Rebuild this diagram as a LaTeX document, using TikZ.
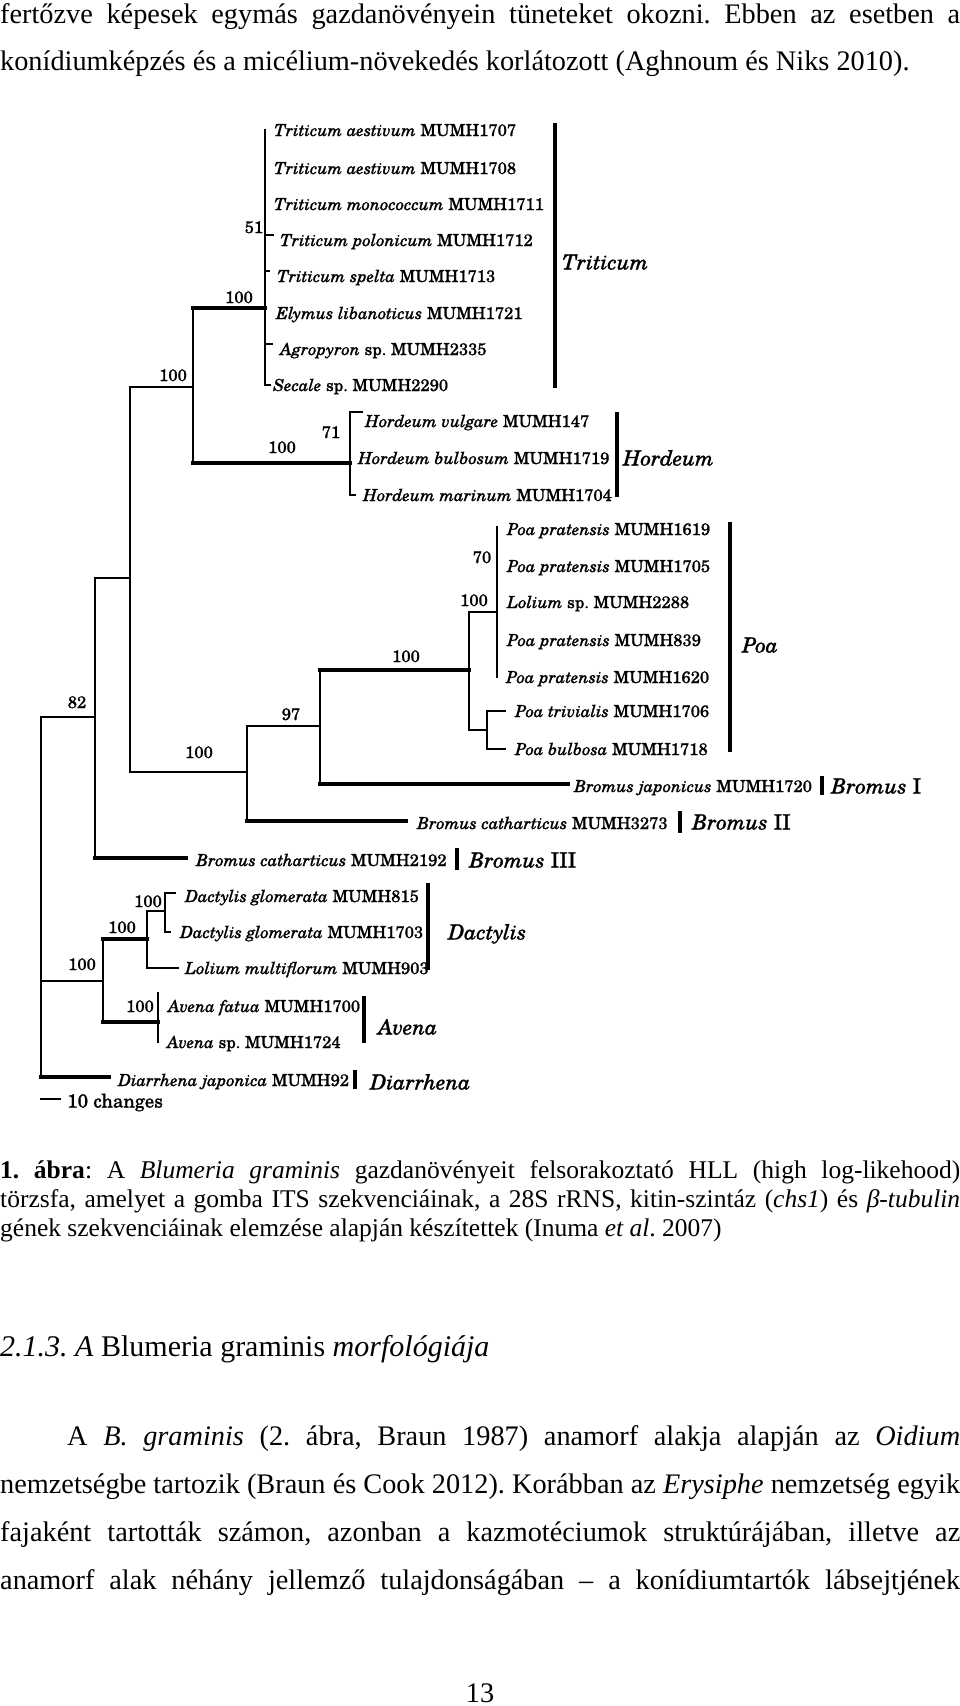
\documentclass[tikz,border=0pt]{standalone}
\usepackage{fontspec}
\setmainfont{Liberation Serif}
\newfontfamily\scholafam{TeX Gyre Schola}[FakeBold=1.1]
\newcommand\mytree{\scholafam\fontsize{16.6}{19}\selectfont}
\newcommand\myscale{\scholafam\fontsize{18.8}{22}\selectfont}
\newcommand\myclade{\scholafam\fontsize{21}{24}\selectfont}
\newcommand\mybody{\fontsize{28.3}{34}\selectfont}
\newcommand\mycap{\fontsize{25.5}{30}\selectfont}
\newcommand\myhead{\fontsize{30}{36}\selectfont}
\frenchspacing
\begin{document}
\frenchspacing
\begin{tikzpicture}[x=1pt,y=-1pt,
  tline/.style={line width=1.3pt, line cap=rect},
  tmid/.style={line width=2.6pt},
  tthick/.style={line width=4pt, line cap=rect},
  tbar/.style={line width=4.5pt},
  tleaf/.style={anchor=west, inner sep=0pt, text height=12pt, text depth=0pt, font=\mytree},
  tboot/.style={anchor=center, inner sep=0pt, text height=12pt, text depth=0pt, font=\mytree},
  tclade/.style={anchor=west, inner sep=0pt, text height=15pt, text depth=0pt, font=\myclade},
  ptxt/.style={anchor=base west, inner sep=0pt, font=\mybody},
  ctxt/.style={anchor=base west, inner sep=0pt, font=\mycap}]
\useasboundingbox (0,0) rectangle (960,1706);
\fill[white] (0,0) rectangle (960,1706);

% ---------- top paragraph ----------
\node[ptxt] (top1) at (0,23) {\makebox[960pt][s]{fertőzve képesek egymás gazdanövényein tüneteket okozni. Ebben az esetben a}};
\node[ptxt] (top2) at (0,70) {konídiumképzés és a micélium-növekedés korlátozott (Aghnoum és Niks 2010).};

% ---------- tree: internal nodes ----------
\coordinate (R) at (41,900);
\coordinate (N82) at (95,717);
\coordinate (NA) at (130,578);
\coordinate (NTH) at (193,387);
\coordinate (NT) at (265,308);
\coordinate (NH) at (350,463);
\coordinate (NB) at (247,772);
\coordinate (N97) at (320,726);
\coordinate (NP) at (469,670);
\coordinate (NPP) at (497,612);
\coordinate (NPB) at (487,730);
\coordinate (NDA) at (103,981);
\coordinate (ND) at (147,939);
\coordinate (NDD) at (165,911);
\coordinate (NAv) at (158,1022);
\coordinate (BJ) at (568,784);
\coordinate (BII) at (406,821);
\coordinate (BIII) at (186,858);
\coordinate (DI) at (109,1077);
\coordinate (LM) at (178,968);

% ---------- leaves ----------
\node[tleaf] (t1) at (274,130) {\textit{Triticum aestivum} MUMH1707};
\node[tleaf] (t2) at (274,168) {\textit{Triticum aestivum} MUMH1708};
\node[tleaf] (t3) at (274,204) {\textit{Triticum monococcum} MUMH1711};
\node[tleaf] (t4) at (280,240) {\textit{Triticum polonicum} MUMH1712};
\node[tleaf] (t5) at (277,276) {\textit{Triticum spelta} MUMH1713};
\node[tleaf] (t6) at (276,313) {\textit{Elymus libanoticus} MUMH1721};
\node[tleaf] (t7) at (280,349) {\textit{Agropyron} sp. MUMH2335};
\node[tleaf] (t8) at (273,385) {\textit{Secale} sp. MUMH2290};

\node[tleaf] (h1) at (365,421) {\textit{Hordeum vulgare} MUMH147};
\node[tleaf] (h2) at (358,458) {\textit{Hordeum bulbosum} MUMH1719};
\node[tleaf] (h3) at (363,495) {\textit{Hordeum marinum} MUMH1704};

\node[tleaf] (p1) at (507,529) {\textit{Poa pratensis} MUMH1619};
\node[tleaf] (p2) at (507,566) {\textit{Poa pratensis} MUMH1705};
\node[tleaf] (p3) at (507,602) {\textit{Lolium} sp. MUMH2288};
\node[tleaf] (p4) at (507,640) {\textit{Poa pratensis} MUMH839};
\node[tleaf] (p5) at (506,677) {\textit{Poa pratensis} MUMH1620};
\node[tleaf] (p6) at (515,711) {\textit{Poa trivialis} MUMH1706};
\node[tleaf] (p7) at (515,749) {\textit{Poa bulbosa} MUMH1718};

\node[tleaf] (bj) at (574,786) {\textit{Bromus japonicus} MUMH1720};
\node[tleaf] (b2) at (417,823) {\textit{Bromus catharticus} MUMH3273};
\node[tleaf] (b3) at (196,860) {\textit{Bromus catharticus} MUMH2192};

\node[tleaf] (d1) at (185,896) {\textit{Dactylis glomerata} MUMH815};
\node[tleaf] (d2) at (180,932) {\textit{Dactylis glomerata} MUMH1703};
\node[tleaf] (lm) at (185,968) {\textit{Lolium multiflorum} MUMH903};
\node[tleaf] (a1) at (168,1006) {\textit{Avena fatua} MUMH1700};
\node[tleaf] (a2) at (167,1042) {\textit{Avena} sp. MUMH1724};
\node[tleaf] (di) at (118,1080) {\textit{Diarrhena japonica} MUMH92};

% ---------- branches ----------
\draw[tline] (R |- N82) -- (R |- DI);
\draw[tline] (R |- N82) -- (N82);
\draw[tline] (N82 |- NA) -- (N82 |- BIII);
\draw[tline] (N82 |- NA) -- (NA);
\draw[tthick] (N82 |- BIII) -- (BIII);
\draw[tline] (NA |- NTH) -- (NA |- NB);
\draw[tline] (NA |- NTH) -- (NTH);
\draw[tline] (NA |- NB) -- (NB);
\draw[tline] (NTH |- NT) -- (NTH |- NH);
\draw[tthick] (NTH |- NT) -- (NT);
\draw[tthick] (NTH |- NH) -- (NH);
% Triticum node
\draw[tline] (NT |- t1.west) -- (NT |- t8.west);
\draw[tmid] (NT |- t4.west) ++(0,-5) -- (NT |- t7.west);
\draw[tline] (NT |- t4.west) ++(0,-5) -- ++(8,0);
\draw[tline] (NT |- t5.west) ++(0,-5) -- ++(4,0);
\draw[tline] (NT |- t7.west) ++(0,-5) -- ++(7,0);
\draw[tline] (NT |- t8.west) -- ++(5,0);
% Hordeum node
\draw[tline] (NH |- h1.west) ++(0,-9) -- (NH |- h3.west);
\draw[tmid] (NH) -- ++(0,-26);
\draw[tline] (NH |- h1.west) ++(0,-9) -- ++(12,0);
\draw[tline] (NH |- h3.west) -- ++(5,0);
% Bromus / Poa part
\draw[tline] (NB |- N97) -- (NB |- BII);
\draw[tline] (NB |- N97) -- (N97);
\draw[tthick] (NB |- BII) -- (BII);
\draw[tline] (N97 |- NP) -- (N97 |- BJ);
\draw[tthick] (N97 |- NP) -- (NP);
\draw[tthick] (N97 |- BJ) -- (BJ);
\draw[tline] (NP |- NPP) -- (NP |- NPB);
\draw[tline] (NP |- NPP) -- (NPP);
\draw[tline] (NP |- NPB) -- (NPB);
\draw[tline] (NPP |- p1.west) ++(0,-2) -- (NPP |- p5.west);
\draw[tmid] (NPP |- p2.west) -- (NPP |- p3.west);
\draw[tmid] (NPP |- p4.west) ++(0,-3) -- ++(0,18);
\draw[tline] (NPB |- p6.west) -- (NPB |- p7.west);
\draw[tline] (NPB |- p6.west) -- ++(18,0);
\draw[tline] (NPB |- p7.west) -- ++(18,0);
% lower clades
\draw[tline] (R |- NDA) -- (NDA);
\draw[tthick] (R |- DI) -- (DI);
\draw[tline] (NDA |- ND) -- (NDA |- NAv);
\draw[tthick] (NDA |- ND) -- (ND);
\draw[tthick] (NDA |- NAv) -- (NAv);
\draw[tline] (ND |- NDD) -- (ND |- LM);
\draw[tline] (ND |- NDD) -- (NDD);
\draw[tline] (ND |- LM) -- (LM);
\draw[tline] (NDD |- d1.west) ++(0,-3) -- (NDD |- d2.west);
\draw[tline] (NDD |- d1.west) ++(0,-3) -- ++(10,0);
\draw[tline] (NDD |- d2.west) -- ++(5,0);
\draw[tline] (NAv |- a1.west) ++(0,-13) -- (NAv |- a2.west);

% ---------- support values ----------
\node[tboot] (s51) at (254,227) {51};
\node[tboot] (s100a) at (239,297) {100};
\node[tboot] (s100b) at (173,375) {100};
\node[tboot] (s71) at (331,432) {71};
\node[tboot] (s100c) at (282,447) {100};
\node[tboot] (s70) at (482,557) {70};
\node[tboot] (s100d) at (474,600) {100};
\node[tboot] (s100e) at (406,656) {100};
\node[tboot] (s97) at (291,714) {97};
\node[tboot] (s100f) at (199,752) {100};
\node[tboot] (s82) at (77,702) {82};
\node[tboot] (s100g) at (148,901) {100};
\node[tboot] (s100h) at (122,927) {100};
\node[tboot] (s100i) at (82,964) {100};
\node[tboot] (s100j) at (140,1006) {100};

% ---------- clade bars ----------
\draw[tbar] (555,123) -- (555,388);
\node[tclade] (cT) at (562,262) {\textit{Triticum}};
\draw[tbar] (617,412) -- (617,497);
\node[tclade] (cH) at (623,458) {\textit{Hordeum}};
\draw[tbar] (730,522) -- (730,752);
\node[tclade] (cP) at (742,645) {\textit{Poa}};
\draw[tbar] (822,776) -- (822,795);
\node[tclade] (cB1) at (831,786) {\textit{Bromus} I};
\draw[tbar] (680,811) -- (680,833);
\node[tclade] (cB2) at (692,822) {\textit{Bromus} II};
\draw[tbar] (457,848) -- (457,870);
\node[tclade] (cB3) at (469,860) {\textit{Bromus} III};
\draw[tbar] (428,883) -- (428,970);
\node[tclade] (cD) at (448,932) {\textit{Dactylis}};
\draw[tbar] (364,996) -- (364,1043);
\node[tclade] (cA) at (378,1027) {\textit{Avena}};
\draw[tbar] (355,1070) -- (355,1089);
\node[tclade] (cDi) at (370,1082) {\textit{Diarrhena}};

% scale bar
\coordinate (sc1) at (41,1099);
\coordinate (sc2) at (60,1099);
\draw[tline] (sc1) -- (sc2);
\node[tleaf, font=\myscale, text height=13pt] (sclab) at (67,1101) {10 changes};

% ---------- caption ----------
\node[ctxt] (cap1) at (0,1178) {\makebox[960pt][s]{\textbf{1. ábra}: A \textit{Blumeria graminis} gazdanövényeit felsorakoztató HLL (high log-likehood)}};
\node[ctxt] (cap2) at (0,1207) {\makebox[960pt][s]{törzsfa, amelyet a gomba ITS szekvenciáinak, a 28S rRNS, kitin-szintáz (\textit{chs1}) és \textit{β-tubulin}}};
\node[ctxt] (cap3) at (0,1236) {gének szekvenciáinak elemzése alapján készítettek (Inuma \textit{et al}. 2007)};

% ---------- heading ----------
\node[ptxt, font=\myhead] (head) at (0,1356) {\textit{2.1.3. A} Blumeria graminis \textit{morfológiája}};

% ---------- body ----------
\node[ptxt] (b1) at (0,1445) {\makebox[960pt][s]{\hspace*{67pt}A \textit{B. graminis} (2. ábra, Braun 1987) anamorf alakja alapján az \textit{Oidium}}};
\node[ptxt] (b2l) at (0,1493) {\makebox[960pt][s]{nemzetségbe tartozik (Braun és Cook 2012). Korábban az \textit{Erysiphe} nemzetség egyik}};
\node[ptxt] (b3l) at (0,1541) {\makebox[960pt][s]{fajaként tartották számon, azonban a kazmotéciumok struktúrájában, illetve az}};
\node[ptxt] (b4l) at (0,1589) {\makebox[960pt][s]{anamorf alak néhány jellemző tulajdonságában – a konídiumtartók lábsejtjének}};

\node[anchor=base, inner sep=0pt, font=\mybody] (pnum) at (480,1702) {13};
\end{tikzpicture}
\end{document}
